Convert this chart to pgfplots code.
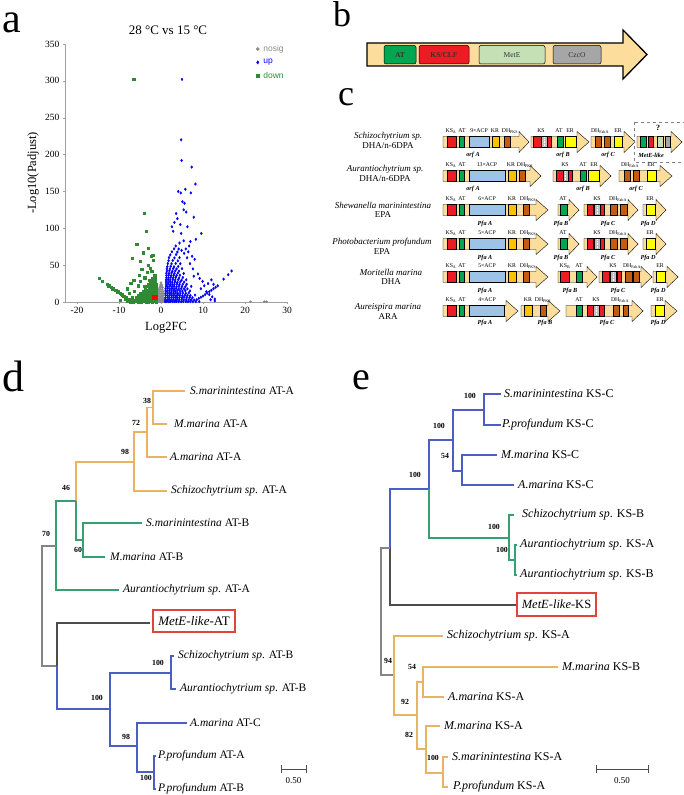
\documentclass[border=0pt]{standalone}
\usepackage{pgfplots}
\pgfplotsset{compat=1.18}
\usepackage{fontspec}
\setmainfont{Liberation Serif}
\newfontfamily\sansf{Liberation Sans}
\newcommand{\fsz}[1]{\fontsize{#1}{#1}\selectfont}
\definecolor{ltyel}{HTML}{FCDD9B}
\definecolor{gred}{HTML}{ED1C24}
\definecolor{ggreen}{HTML}{00A651}
\definecolor{gblue}{HTML}{9DC3E6}
\definecolor{gorange}{HTML}{FFC000}
\definecolor{gbrown}{HTML}{C55A11}
\definecolor{gyellow}{HTML}{FFFF00}
\definecolor{ggray}{HTML}{BFBFBF}
\definecolor{glgreen}{HTML}{C5E0B4}
\definecolor{gdgray}{HTML}{A6A6A6}
\definecolor{torange}{HTML}{E8B362}
\definecolor{tgreen}{HTML}{35A072}
\definecolor{tblue}{HTML}{4A5EC4}
\definecolor{tgray}{HTML}{858585}
\definecolor{tdgray}{HTML}{4D4D4D}
\definecolor{boxred}{HTML}{E0443A}
\definecolor{vgreen}{HTML}{2E8B34}
\definecolor{vgray}{HTML}{8A8A8A}
\definecolor{vblue}{HTML}{0000FF}
% gene arrow helpers (pixel coordinates, y downward)
\newcommand{\garrow}[4]{\draw[fill=ltyel, line width=0.4pt, line join=miter] (#1,#4-5.5) -- (#2,#4-5.5) -- (#2,#4-10.5) -- (#3,#4) -- (#2,#4+10.5) -- (#2,#4+5.5) -- (#1,#4+5.5) -- cycle;}
\newcommand{\dm}[4]{\draw[fill=#4, line width=0.3pt] (#1,#3-5.5) rectangle (#2,#3+5.5);}
\newcommand{\gdm}[3]{\dm{#1}{#2}{#3}{ggray}\draw[white, line width=0.7pt, dash pattern=on 0.7pt off 0.9pt] ({(#1+#2)/2},#3-4.5) -- ({(#1+#2)/2},#3+4.5);}
\newcommand{\tl}[3]{\node[font=\fsz{5.8}, inner sep=0pt] at (#1,#2) {#3};}
\newcommand{\bl}[3]{\node[font=\fsz{6.2}\bfseries\itshape, inner sep=0pt] at (#1,#2) {#3};}
% tree helpers (inside overlay axis)
\newcommand{\lf}[3]{\node[anchor=west, inner sep=0pt, font=\fsz{11.5}] at (axis cs:#1,#2) {#3};}
\newcommand{\lfe}[3]{\node[anchor=west, inner sep=0pt, font=\fsz{12}] at (axis cs:#1,#2) {#3};}
\newcommand{\bs}[3]{\node[inner sep=0pt, font=\fsz{7.8}\bfseries] at (axis cs:#1,#2) {#3};}
\begin{document}
\begin{tikzpicture}
\path[use as bounding box] (0pt,0pt) rectangle (683pt,795pt);

% ===== overlay axis in pixel units: trees d and e =====
\begin{axis}[at={(0pt,0pt)}, anchor=south west, scale only axis, width=683pt, height=795pt,
  xmin=0, xmax=683, ymin=0, ymax=795, y dir=reverse, hide axis, clip=false,
  every axis plot/.append style={no markers, line width=1.25pt, line join=miter}]
% ---- tree d ----
\addplot[torange] coordinates {(185,391)(153,391)(153,424)(167,424)};
\addplot[torange] coordinates {(153,407.5)(147,407.5)(147,457)(167,457)};
\addplot[torange] coordinates {(147,432)(134,432)(134,491)(167,491)};
\addplot[torange] coordinates {(134,462)(76,462)(76,501)};
\addplot[tgreen] coordinates {(76,501)(76,540)(83,540)};
\addplot[tgreen] coordinates {(142,523)(83,523)(83,557)(105,557)};
\addplot[tgreen] coordinates {(76,501)(56,501)(56,590)(119,590)};
\addplot[tgray] coordinates {(56,546)(42,546)(42,666)(57,666)};
\addplot[tdgray] coordinates {(57,666)(57,623)(150,623)};
\addplot[tblue] coordinates {(57,666)(57,709)(110,709)};
\addplot[tblue] coordinates {(171,673)(110,673)(110,746)(137,746)};
\addplot[tblue] coordinates {(174,656)(171,656)(171,689)(176,689)};
\addplot[tblue] coordinates {(187,723)(137,723)(137,772)(154,772)};
\addplot[tblue] coordinates {(156,756)(154,756)(154,789)(156,789)};
\addplot[tdgray, line width=0.8pt] coordinates {(281,769)(306,769)};
\addplot[tdgray, line width=0.8pt] coordinates {(281,765)(281,773)};
\addplot[tdgray, line width=0.8pt] coordinates {(306,765)(306,773)};
\node[font=\fsz{9}] at (axis cs:293.5,781) {0.50};
\lf{190}{391}{\textit{S.marinintestina} AT-A}
\lf{174}{424}{\textit{M.marina} AT-A}
\lf{170}{457}{\textit{A.marina} AT-A}
\lf{171}{491}{\textit{Schizochytrium sp}. AT-A}
\lf{146}{523}{\textit{S.marinintestina} AT-B}
\lf{110}{557}{\textit{M.marina} AT-B}
\lf{123}{590}{\textit{Aurantiochytrium sp}. AT-A}
\node[draw=boxred, line width=1.1pt, minimum width=82pt, minimum height=22pt, inner sep=0pt, font=\fsz{13}] at (axis cs:194,621) {\textit{MetE-like}-AT};
\lf{178}{656}{\textit{Schizochytrium sp}. AT-B}
\lf{180}{689}{\textit{Aurantiochytrium sp}. AT-B}
\lf{190}{723}{\textit{A.marina} AT-C}
\lf{158}{756}{\textit{P.profundum} AT-A}
\lf{158}{789}{\textit{P.profundum} AT-B}
\bs{147}{401}{38}
\bs{136}{423}{72}
\bs{125}{452}{98}
\bs{66}{488}{46}
\bs{78}{550}{60}
\bs{46}{534}{70}
\bs{97}{698}{100}
\bs{158}{663}{100}
\bs{126}{737}{98}
\bs{146}{778}{100}
% ---- tree e ----
\addplot[tblue] coordinates {(501,394)(484,394)(484,425)(501,425)};
\addplot[tblue] coordinates {(484,410)(453,410)(453,471)(462,471)};
\addplot[tblue] coordinates {(497,455)(462,455)(462,485)(514,485)};
\addplot[tblue] coordinates {(453,440)(429,440)(429,489)(390,489)(390,547)};
\addplot[tgreen] coordinates {(429,489)(429,538)(509,538)};
\addplot[tgreen] coordinates {(514,515)(509,515)(509,560)(515,560)};
\addplot[tgreen] coordinates {(517,545)(515,545)(515,575)(517,575)};
\addplot[tdgray] coordinates {(390,547)(390,605)(517,605)};
\addplot[tgray] coordinates {(390,548)(381,548)(381,675)(394,675)};
\addplot[torange] coordinates {(443,636)(394,636)(394,715)(417,715)};
\addplot[torange] coordinates {(423,682)(417,682)(417,749)(426,749)};
\addplot[torange] coordinates {(558,667)(423,667)(423,697)(444,697)};
\addplot[torange] coordinates {(440,726)(426,726)(426,773)(443,773)};
\addplot[torange] coordinates {(448,757)(443,757)(443,787)(448,787)};
\addplot[tdgray, line width=0.8pt] coordinates {(596,769)(648,769)};
\addplot[tdgray, line width=0.8pt] coordinates {(596,765)(596,773)};
\addplot[tdgray, line width=0.8pt] coordinates {(648,765)(648,773)};
\node[font=\fsz{9}] at (axis cs:622,781) {0.50};
\lfe{504}{394}{\textit{S.marinintestina} KS-C}
\lfe{502}{425}{\textit{P.profundum} KS-C}
\lfe{501}{455}{\textit{M.marina} KS-C}
\lfe{518}{485}{\textit{A.marina} KS-C}
\lfe{522}{515}{\textit{Schizochytrium sp}. KS-B}
\lfe{520}{545}{\textit{Aurantiochytrium sp}. KS-A}
\lfe{520}{575}{\textit{Aurantiochytrium sp}. KS-B}
\node[draw=boxred, line width=1.1pt, minimum width=79pt, minimum height=23pt, inner sep=0pt, font=\fsz{12.5}] at (axis cs:556.5,604.5) {\textit{MetE-like}-KS};
\lfe{447}{636}{\textit{Schizochytrium sp}. KS-A}
\lfe{562}{667}{\textit{M.marina} KS-B}
\lfe{448}{697}{\textit{A.marina} KS-A}
\lfe{444}{726}{\textit{M.marina} KS-A}
\lfe{452}{757}{\textit{S.marinintestina} KS-A}
\lfe{453}{787}{\textit{P.profundum} KS-A}
\bs{470}{396}{100}
\bs{439}{426}{100}
\bs{445}{456}{54}
\bs{415}{475}{100}
\bs{494}{527}{100}
\bs{502}{550}{100}
\bs{388}{661}{94}
\bs{412}{667}{54}
\bs{405}{702}{92}
\bs{409}{735}{82}
\bs{433}{758}{100}
\end{axis}

% ===== panel a: volcano plot =====
\begin{axis}[at={(65pt,493pt)}, anchor=south west, scale only axis, width=222pt, height=258pt,
  xmin=-22.86, xmax=30, ymin=0, ymax=350, clip=false,
  axis x line*=bottom, axis y line*=left,
  axis line style={vgray!80, line width=0.6pt},
  xtick={-20,-10,...,30}, ytick={0,50,...,350},
  tick align=outside, major tick length=2pt, tick style={vgray!80},
  tick label style={font=\fsz{9.5}},
  /pgf/number format/assume math mode=true,
  title={28 °C vs 15 °C}, title style={at={(axis description cs:0.464,1.03)}, anchor=center, font=\fsz{13}},
  xlabel={Log2FC}, xlabel style={at={(axis description cs:0.455,-0.101)}, anchor=center, font=\fsz{12.5}},
  ylabel={-Log10(Padjust)}, ylabel style={at={(axis description cs:-0.144,0.5)}, anchor=center, font=\fsz{12.5}},
  legend style={at={(0.86,1.0)}, anchor=north west, draw=none, fill=none, font=\sansf\fsz{8.5}, row sep=4.5pt, inner sep=0pt, nodes={inner sep=1pt}},
  legend cell align=left,
  legend image code/.code={\draw[mark size=1.6pt] plot coordinates {(3pt,0pt)};}]
\addplot[only marks, mark=*, mark size=1.1pt, vgray] coordinates {
(-1.8,0.5)(-1.4,0.4)(-1.0,0.6)(-0.6,0.5)(-0.2,0.4)(0.2,0.6)(0.6,0.5)(1.0,0.4)(1.4,0.5)
(-1.6,2.5)(-1.2,2.7)(-0.8,2.4)(-0.4,2.6)(0.0,2.5)(0.4,2.7)(0.8,2.4)
(-1.3,5.0)(-0.9,5.2)(-0.5,4.9)(-0.1,5.1)(0.3,5.0)(0.7,5.2)
(-1.1,8.0)(-0.7,8.2)(-0.3,7.9)(0.1,8.1)(0.5,8.0)
(-0.9,11.0)(-0.5,11.2)(-0.1,10.9)(0.3,11.1)(0.6,11.0)
(-0.7,14.0)(-0.3,14.2)(0.1,13.9)(0.5,14.1)
(-0.5,17.0)(-0.1,17.2)(0.3,16.9)
(-0.3,20.0)(0.1,20.2)(0.4,19.9)
(-0.1,23.0)(0.2,23.2)(0.0,26.0)
(21.3,0.4)(24.6,0.4)(25.1,0.4)};
\addlegendentry{\hspace{3pt}\textcolor{vgray}{nosig}}
\addplot[only marks, mark=diamond*, mark size=1.3pt, vblue] coordinates {
(1.0,0.5)(1.4,0.6)(1.9,0.4)(2.3,0.7)(2.8,0.5)(3.3,0.4)(3.7,0.6)(4.2,0.5)(4.8,0.4)(5.3,0.6)(5.9,0.5)(6.4,0.4)(7.0,0.6)(7.6,0.5)(8.3,0.4)(9.1,0.6)
(1.0,3.1)(1.5,2.8)(1.9,3.3)(2.4,2.9)(2.9,3.2)(3.4,2.7)(3.8,3.3)(4.3,2.9)(4.9,3.1)(5.4,2.8)(6.0,3.2)(6.6,2.9)(7.2,3.3)(7.9,2.7)
(1.1,6.0)(1.6,6.3)(2.0,5.8)(2.5,6.2)(3.0,5.9)(3.5,6.3)(3.9,5.7)(4.4,6.1)(5.0,6.0)(5.5,6.4)(6.1,5.8)(6.8,6.2)(7.5,5.9)
(1.1,9.1)(1.6,8.8)(2.1,9.3)(2.6,8.9)(3.1,9.2)(3.6,8.7)(4.0,9.3)(4.5,9.0)(5.1,8.8)(5.7,9.2)(6.3,9.0)(7.0,8.8)(8.1,9.4)
(1.1,12.0)(1.6,12.3)(2.1,11.8)(2.5,12.2)(3.0,11.9)(3.5,12.3)(4.0,11.7)(4.6,12.1)(5.2,12.0)(5.9,11.8)(6.6,12.3)
(1.1,15.1)(1.5,14.8)(2.0,15.3)(2.5,14.9)(3.0,15.2)(3.4,14.7)(3.9,15.3)(4.5,15.0)(5.1,14.8)(5.8,15.2)(6.9,15.0)
(1.1,18.0)(1.6,18.3)(2.1,17.8)(2.6,18.2)(3.1,17.9)(3.6,18.3)(4.2,17.7)(4.8,18.1)(5.5,18.0)(6.3,17.8)
(1.2,21.1)(1.6,20.8)(2.1,21.3)(2.6,20.9)(3.1,21.2)(3.7,20.7)(4.3,21.3)(5.0,21.0)(5.8,20.8)(7.2,21.2)
(1.2,24.0)(1.7,24.3)(2.2,23.8)(2.7,24.2)(3.2,23.9)(3.8,24.3)(4.4,23.7)(5.2,24.1)(6.1,24.0)
(1.2,27.1)(1.7,26.8)(2.2,27.3)(2.7,26.9)(3.3,27.2)(3.9,26.7)(4.6,27.3)(5.5,27.0)
(1.2,30.0)(1.7,30.3)(2.2,29.8)(2.8,30.2)(3.4,29.9)(4.1,30.3)(4.9,29.7)(6.0,30.1)
(1.3,33.1)(1.8,32.8)(2.3,33.3)(2.9,32.9)(3.5,33.2)(4.3,32.7)(5.2,33.3)
(1.3,36.0)(1.8,36.3)(2.4,35.8)(3.0,36.2)(3.7,35.9)(4.5,36.3)
(1.3,39.1)(1.9,38.8)(2.5,39.3)(3.2,38.9)(4.0,39.2)(5.4,38.7)
(1.4,42.0)(2.0,42.3)(2.7,41.8)(3.4,42.2)(4.3,41.9)
(1.4,45.1)(2.1,44.8)(2.9,45.3)(3.7,44.9)(5.0,45.2)
(1.5,48.0)(2.3,48.3)(3.1,47.8)(4.1,48.2)
(1.6,52.1)(2.5,51.8)(3.5,52.3)(4.6,51.9)
(1.8,56.0)(2.8,56.3)(4.0,55.8)
(1.9,60.2)(3.2,59.8)(4.4,60.1)
(2.2,64.0)(3.6,64.3)(2.6,68.1)(3.9,67.8)(3.1,72.2)(4.2,71.9)
(5.0,302)(4.8,220)(4.9,192)(7.3,183)(8.2,160)(4.1,150)(4.7,148)(5.8,153)(7.1,148)
(5.1,136)(5.6,134)(5.4,125)(6.0,122)(3.6,120)(3.9,113)(7.8,115)(3.2,108)(4.6,105)
(4.8,93)(6.3,102)(9.6,93)(8.3,85)(5.4,83)(6.7,76)(2.9,96)(2.6,102)(7.0,82)(5.9,72)
(6.5,68)(7.4,62)(8.0,58)(6.9,52)(7.6,45)(8.8,38)(9.2,32)(7.8,35)(9.9,28)(10.3,22)
(9.5,18)(10.8,14)(11.5,10)(12.2,7)(12.8,4)(11.2,25)(12.0,30)(6.2,60)(5.5,66)(4.9,70)
(3.5,76)(4.4,80)
(8.5,3)(9.0,5)(9.5,6.5)(10.0,8)(10.5,10)(11.0,12)(11.5,14)(12.0,16)(12.5,18)(13.0,20)
(13.5,22)(12.5,24)(14.9,31)(16.0,37)(16.8,42)(12.8,1.5)(11.8,3)};
\addlegendentry{\hspace{3pt}\textcolor{vblue}{up}}
\addplot[only marks, mark=square*, mark size=1.1pt, vgreen] coordinates {
(-1.1,0.5)(-1.6,0.6)(-2.1,0.4)(-2.6,0.6)(-3.1,0.5)(-3.6,0.4)(-4.2,0.6)(-4.8,0.5)(-5.4,0.4)(-6.0,0.6)(-6.7,0.5)(-7.4,0.4)(-8.1,0.6)
(-1.1,3.1)(-1.6,2.8)(-2.1,3.2)(-2.6,2.9)(-3.1,3.3)(-3.7,2.8)(-4.3,3.1)(-4.9,2.9)(-5.6,3.2)(-6.3,2.8)(-7.1,3.0)
(-1.1,6.0)(-1.6,6.3)(-2.1,5.8)(-2.6,6.2)(-3.2,5.9)(-3.8,6.3)(-4.4,5.8)(-5.1,6.1)(-5.9,5.9)(-6.8,6.2)
(-1.1,9.1)(-1.6,8.8)(-2.1,9.2)(-2.7,8.9)(-3.3,9.3)(-3.9,8.8)(-4.6,9.1)(-5.4,8.9)
(-1.1,12.0)(-1.6,12.3)(-2.2,11.8)(-2.8,12.2)(-3.4,11.9)(-4.1,12.2)(-4.9,11.8)
(-1.2,15.1)(-1.7,14.8)(-2.2,15.2)(-2.8,14.9)(-3.5,15.3)(-4.3,14.8)
(-1.2,18.0)(-1.7,18.3)(-2.3,17.8)(-2.9,18.2)(-3.7,17.9)
(-1.2,21.1)(-1.7,20.8)(-2.3,21.2)(-3.0,20.9)(-3.9,21.3)
(-1.2,24.0)(-1.8,24.3)(-2.4,23.8)(-3.1,24.2)
(-1.3,27.1)(-1.8,26.8)(-2.5,27.2)
(-1.3,30.0)(-1.9,30.3)(-2.7,29.8)
(-1.4,33.1)(-2.1,32.8)(-1.5,36.0)
(-6.5,302)(-4.0,120)(-3.5,96)(-5.8,78)(-3.0,73)(-4.3,67)(-2.0,64)(-2.4,62)(-1.9,57)
(-6.8,59)(-5.0,55)(-3.0,50)(-4.6,44)(-2.5,46)(-3.3,40)(-2.2,42)(-5.2,36)(-6.5,30)
(-7.2,25)(-5.5,22)(-8.0,18)(-6.3,15)(-7.6,12)(-9.0,8)(-8.5,4)(-9.8,2)(-4.9,28)(-3.9,33)
(-14.8,32)(-14.0,28)(-12.8,24)(-12.3,22)(-11.8,20)(-11.3,18)(-10.8,16)(-10.3,14)
(-9.8,12)(-9.3,10)(-8.8,8)(-8.3,6)(-7.8,4)(-7.3,2.5)(-12.5,21)(-11.5,17.5)(-10.5,15)
(-9.5,11)(-8.5,7)};
\addlegendentry{\hspace{3pt}\textcolor{vgreen}{down}}
\addplot[only marks, mark=square*, mark size=2.2pt, red, forget plot] coordinates {(-1.5,6.5)};
\end{axis}

% ===== panels b, c and letters (pixel coordinates, y downward) =====
\begin{scope}[shift={(0pt,795pt)}, x=1pt, y=-1pt]
\node[anchor=base west, inner sep=0pt, font=\fsz{42}] at (2,33) {a};
\node[anchor=base west, inner sep=0pt, font=\fsz{36}] at (333,27) {b};
\node[anchor=base west, inner sep=0pt, font=\fsz{36}] at (338,106) {c};
\node[anchor=base west, inner sep=0pt, font=\fsz{44}] at (2,392) {d};
\node[anchor=base west, inner sep=0pt, font=\fsz{40}] at (352,390) {e};
% panel b
\draw[fill=ltyel, line width=1.3pt, line join=miter] (367,43) -- (623,43) -- (623,30) -- (647,54.5) -- (623,79) -- (623,66) -- (367,66) -- cycle;
\draw[fill=ggreen, rounded corners=2pt, line width=0.5pt] (384,45.5) rectangle (416,64);
\draw[fill=gred, rounded corners=2pt, line width=0.5pt] (419,45.5) rectangle (469,64);
\draw[fill=glgreen, rounded corners=2pt, line width=0.5pt] (479,45.5) rectangle (545,64);
\draw[fill=gdgray, rounded corners=2pt, line width=0.5pt] (553,45.5) rectangle (601,64);
\node[font=\fsz{7.5}\bfseries, text=black!80] at (400,55) {AT};
\node[font=\fsz{7.5}\bfseries, text=black!80] at (444,55) {KS/CLF};
\node[font=\fsz{7.5}, text=black!80] at (512,55) {MetE};
\node[font=\fsz{7.5}, text=black!80] at (577,55) {CzcO};
% panel c labels
\node[font=\fsz{9}\itshape] at (388,136) {Schizochytrium sp.};
\node[font=\fsz{9}] at (388,146) {DHA/n-6DPA};
\node[font=\fsz{9}\itshape] at (385,169) {Aurantiochytrium sp.};
\node[font=\fsz{9}] at (385,179) {DHA/n-6DPA};
\node[font=\fsz{9}\itshape] at (383,205) {Shewanella marinintestina};
\node[font=\fsz{9}] at (383,215) {EPA};
\node[font=\fsz{9}\itshape] at (382,242) {Photobacterium profundum};
\node[font=\fsz{9}] at (382,252) {EPA};
\node[font=\fsz{9}\itshape] at (391,272) {Moritella marina};
\node[font=\fsz{9}] at (391,282) {DHA};
\node[font=\fsz{9}\itshape] at (388,307) {Aureispira marina};
\node[font=\fsz{9}] at (388,317) {ARA};
% row 1
\garrow{443}{519}{529}{142}
\dm{447}{456}{142}{gred}\dm{459}{464}{142}{ggreen}\dm{469}{489}{142}{gblue}\dm{492}{499}{142}{gorange}\dm{504}{510}{142}{gbrown}
\tl{451}{131}{KS\textsubscript{A}}\tl{462}{131}{AT}\tl{479}{131}{9×ACP}\tl{495}{131}{KR}\tl{510}{131}{DH\textsubscript{PKS}}
\garrow{531}{577}{589}{142}
\dm{533}{541}{142}{gred}\gdm{541}{547}{142}\dm{547}{551}{142}{gred}\dm{557}{563}{142}{ggreen}\dm{565}{576}{142}{gyellow}
\tl{541}{131}{KS}\tl{559}{131}{AT}\tl{570}{131}{ER}
\garrow{591}{624}{635}{142}
\dm{595}{601}{142}{gbrown}\dm{604}{610}{142}{gbrown}\dm{614}{622}{142}{gyellow}
\tl{600}{131}{DH\textsubscript{FabA}}\tl{618}{131}{ER}
\garrow{637}{671}{682}{142}
\dm{640}{646}{142}{ggreen}\dm{648}{653}{142}{gred}\dm{657}{663}{142}{glgreen}\dm{665}{670}{142}{gdgray}
\draw[gray, dashed, line width=0.5pt] (634,122) rectangle (692,162);
\node[font=\fsz{8}\bfseries, inner sep=0pt] at (658,128) {?};
\bl{473}{155}{orf A}\bl{563}{155}{orf B}\bl{608}{155}{orf C}\bl{651}{155}{MetE-like}
% row 2
\garrow{443}{530}{541}{176}
\dm{447}{456}{176}{gred}\dm{459}{464}{176}{ggreen}\dm{469}{505}{176}{gblue}\dm{508}{516}{176}{gorange}\dm{519}{525}{176}{gbrown}
\tl{451}{165}{KS\textsubscript{A}}\tl{462}{165}{AT}\tl{487}{165}{13×ACP}\tl{511}{165}{KR}\tl{525}{165}{DH\textsubscript{PKS}}
\garrow{553}{600}{611}{176}
\dm{556}{563}{176}{gred}\gdm{563}{568}{176}\dm{568}{572}{176}{gred}\dm{580}{586}{176}{ggreen}\dm{588}{599}{176}{gyellow}
\tl{565}{165}{KS}\tl{583}{165}{AT}\tl{594}{165}{ER}
\garrow{619}{660}{672}{176}
\dm{624}{630}{176}{gbrown}\dm{633}{639}{176}{gbrown}\dm{647}{656}{176}{gyellow}
\tl{630}{165}{DH\textsubscript{FabA}}\tl{651}{165}{ER}
\bl{473}{189}{orf A}\bl{583}{189}{orf B}\bl{636}{189}{orf C}
% rows 3 and 4
\foreach \yc/\acp in {210/6, 244/5}{
\garrow{443}{536}{548}{\yc}
\dm{447}{456}{\yc}{gred}\dm{459}{464}{\yc}{ggreen}\dm{469}{505}{\yc}{gblue}\dm{508}{516}{\yc}{gorange}\dm{523}{529}{\yc}{gbrown}
\tl{451}{\yc-11}{KS\textsubscript{A}}\tl{462}{\yc-11}{AT}\tl{487}{\yc-11}{\acp×ACP}\tl{512}{\yc-11}{KR}\tl{528}{\yc-11}{DH\textsubscript{PKS}}
\garrow{558}{569}{579}{\yc}
\dm{560}{567}{\yc}{ggreen}
\tl{563}{\yc-11}{AT}
\garrow{584}{628}{638}{\yc}
\dm{587}{593}{\yc}{gred}\gdm{594}{600}{\yc}\dm{600}{604}{\yc}{gred}\dm{610}{617}{\yc}{gbrown}\dm{620}{627}{\yc}{gbrown}
\tl{597}{\yc-11}{KS}\tl{618}{\yc-11}{DH\textsubscript{FabA}}
\garrow{643}{656}{666}{\yc}
\dm{646}{655}{\yc}{gyellow}
\tl{650}{\yc-11}{ER}
\bl{485}{\yc+14}{Pfa A}\bl{561}{\yc+14}{Pfa B}\bl{608}{\yc+14}{Pfa C}\bl{648}{\yc+14}{Pfa D}
}
% row 5
\garrow{443}{536}{548}{277}
\dm{447}{456}{277}{gred}\dm{459}{464}{277}{ggreen}\dm{469}{505}{277}{gblue}\dm{508}{516}{277}{gorange}\dm{523}{529}{277}{gbrown}
\tl{451}{266}{KS\textsubscript{A}}\tl{462}{266}{AT}\tl{487}{266}{5×ACP}\tl{512}{266}{KR}\tl{528}{266}{DH\textsubscript{PKS}}
\garrow{558}{587}{597}{277}
\dm{560}{569}{277}{gred}\dm{576}{582}{277}{ggreen}
\tl{565}{266}{KS\textsubscript{B}}\tl{579}{266}{AT}
\garrow{599}{641}{652}{277}
\dm{602}{609}{277}{gred}\gdm{610}{616}{277}\dm{617}{621}{277}{gred}\dm{625}{632}{277}{gbrown}\dm{633}{639}{277}{gbrown}
\tl{613}{266}{KS}\tl{632}{266}{DH\textsubscript{FabA}}
\garrow{653}{667}{678}{277}
\dm{656}{665}{277}{gyellow}
\tl{660}{266}{ER}
\bl{485}{291}{Pfa A}\bl{570}{291}{Pfa B}\bl{618}{291}{Pfa C}\bl{658}{291}{Pfa D}
% row 6
\garrow{443}{506}{518}{311}
\dm{447}{456}{311}{gred}\dm{459}{464}{311}{ggreen}\dm{469}{504}{311}{gblue}
\tl{451}{300}{KS\textsubscript{A}}\tl{462}{300}{AT}\tl{487}{300}{4×ACP}
\garrow{521}{548}{560}{311}
\dm{524}{532}{311}{gorange}\dm{540}{546}{311}{gbrown}
\tl{528}{300}{KR}\tl{543}{300}{DH\textsubscript{PKS}}
\garrow{566}{632}{643}{311}
\dm{576}{582}{311}{ggreen}\dm{587}{593}{311}{gred}\gdm{593}{599}{311}\dm{599}{604}{311}{gred}\dm{613}{619}{311}{gbrown}\dm{623}{628}{311}{gbrown}
\tl{579}{300}{AT}\tl{596}{300}{KS}\tl{620}{300}{DH\textsubscript{FabA}}
\garrow{651}{665}{677}{311}
\dm{655}{664}{311}{gyellow}
\tl{660}{300}{ER}
\bl{485}{323}{Pfa A}\bl{545}{323}{Pfa B}\bl{607}{323}{Pfa C}\bl{658}{323}{Pfa D}
\end{scope}
\end{tikzpicture}
\end{document}
